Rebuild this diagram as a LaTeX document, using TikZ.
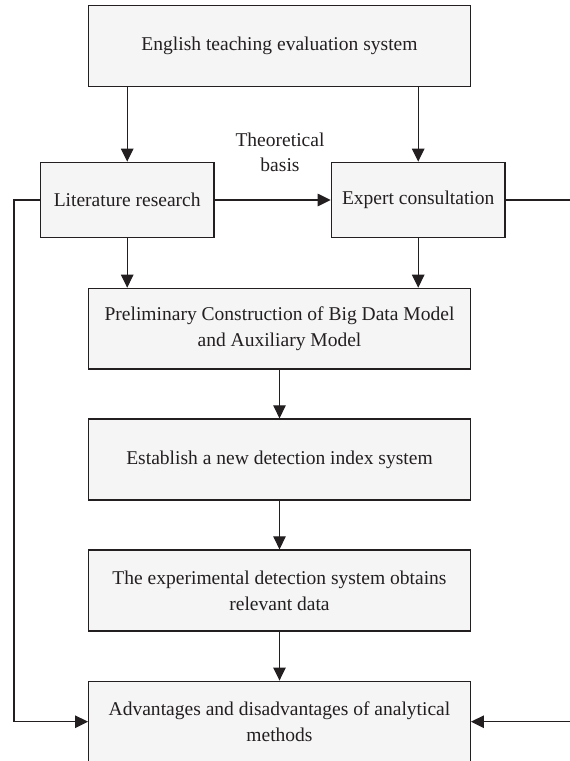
\documentclass[tikz,border=0pt]{standalone}
\usepackage{fontspec}
\setmainfont{Liberation Serif}
\usetikzlibrary{arrows.meta}
\definecolor{boxfill}{HTML}{F5F5F5}
\definecolor{ink}{HTML}{231F20}
\begin{document}
\begin{tikzpicture}[x=1bp,y=-1bp,
  box/.style={draw=ink,fill=boxfill,line width=1.3bp,align=center,text=ink,
    font=\fontsize{19.6}{26}\selectfont,inner sep=0pt},
  link/.style={draw=ink,line width=1.1bp,-{Triangle[length=13bp,width=12.5bp]}}]
\useasboundingbox (0,0) rectangle (570,761);
\node[box,minimum width=381.6bp,minimum height=81bp] (top) at (279.5,46.2) {English teaching evaluation system};
\node[box,minimum width=173.7bp,minimum height=75.4bp] (lit) at (127.2,200) {Literature research};
\node[box,minimum width=173.7bp,minimum height=75.4bp] (exp) at (418.2,200) {Expert consultation};
\node[box,minimum width=381.6bp,minimum height=80.7bp] (pre) at (279.5,328.7) {Preliminary Construction of Big Data Model\\and Auxiliary Model};
\node[box,minimum width=381.6bp,minimum height=81bp] (est) at (279.5,459.5) {Establish a new detection index system};
\node[box,minimum width=381.6bp,minimum height=81bp] (obt) at (279.5,590.5) {The experimental detection system obtains\\relevant data};
\node[box,minimum width=381.6bp,minimum height=81bp] (adv) at (279.5,721.7) {Advantages and disadvantages of analytical\\methods};
\node[text=ink,align=center,font=\fontsize{19.6}{25}\selectfont,inner sep=0pt] (lab) at (280,152.5) {Theoretical\\basis};
\coordinate (lcorner) at (14,200);
\coordinate (rcorner) at (580,200);
\draw[link] (top.south -| lit) -- (lit.north);
\draw[link] (top.south -| exp) -- (exp.north);
\draw[link] (lit) -- (exp);
\draw[link] (lit.south) -- (pre.north -| lit);
\draw[link] (exp.south) -- (pre.north -| exp);
\draw[link] (pre) -- (est);
\draw[link] (est) -- (obt);
\draw[link] (obt) -- (adv);
\draw[link] (lit.west) -- (lcorner) |- (adv.west);
\draw[link] (exp.east) -- (rcorner) |- (adv.east);
\end{tikzpicture}
\end{document}
